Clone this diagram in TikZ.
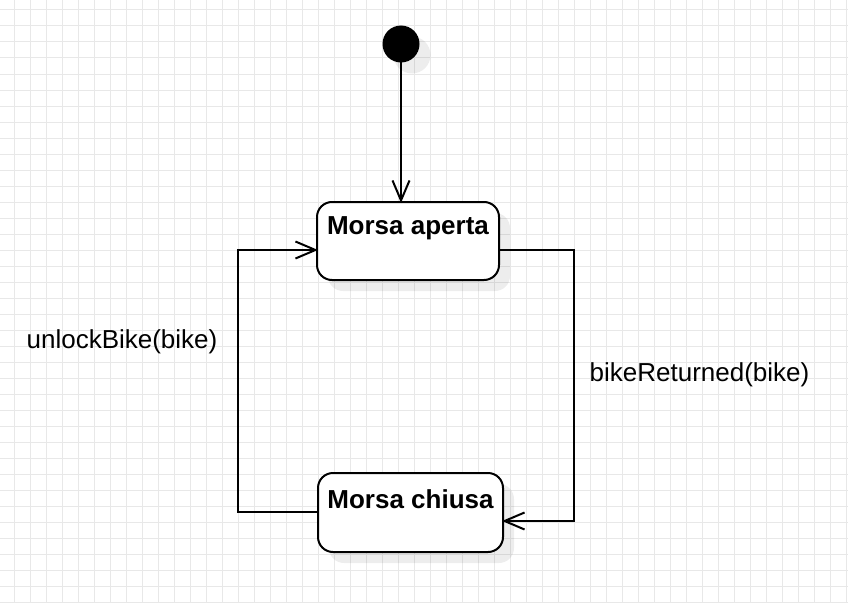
\documentclass[tikz,border=0pt]{standalone}
\usepackage{fontspec}
\setmainfont{Liberation Sans}
\usetikzlibrary{arrows.meta,positioning,shadows}

\tikzset{
  gridline/.style={draw=black!9, line width=1pt},
  softshadow/.style={drop shadow={shadow xshift=11pt, shadow yshift=-11pt, fill=black, opacity=0.07}},
  state/.style={draw, line width=2pt, rounded corners=15pt, fill=white, inner sep=0pt, outer sep=0pt, softshadow},
  initial/.style={circle, fill=black, minimum size=37pt, inner sep=0pt, outer sep=0pt, softshadow},
  statename/.style={font=\fontsize{26}{31}\selectfont\bfseries, inner sep=0pt},
  translabel/.style={font=\fontsize{26}{31}\selectfont, inner sep=0pt},
  trans/.style={line width=2pt, shorten >=-1pt, -{Straight Barb[length=20pt, width=17pt]}}
}

\begin{document}
\begin{tikzpicture}[x=1pt, y=-1pt]
                \useasboundingbox (0, 0) rectangle (848, 602);
                \fill [white] (0, 0) rectangle (848, 602);
                % grid
                \foreach \gx in {14, 30, ..., 846}
                    \draw [gridline] (\gx, 0) -- (\gx, 602);
                \foreach \gy in {10, 26, ..., 602}
                    \draw [gridline] (0, \gy) -- (848, \gy);

                \node [initial] (init) at (401, 44) {};
                \node [state, minimum width=182pt, minimum height=78pt] (aperta) at (408, 241) {};
                \node [state, minimum width=185pt, minimum height=79pt] (chiusa) at (410.5, 512.5) {};
                \node [statename, below=14.5pt of aperta.north] (apertaname) {Morsa aperta};
                \node [statename, below=16pt of chiusa.north] (chiusaname) {Morsa chiusa};

                \coordinate (rtop) at (574, 250);
                \coordinate (rbot) at (574, 521);
                \coordinate (lbot) at (238, 512);
                \coordinate (ltop) at (238, 250);

                \draw [trans] (init) -- (init |- aperta.north);
                \draw [trans] (aperta.east |- rtop) -- (rtop) -- (rbot) -- (chiusa.east |- rbot);
                \draw [trans] (chiusa.west |- lbot) -- (lbot) -- (ltop) -- (aperta.west |- ltop);

                \node [translabel] (unlock) at (122, 342) {unlockBike(bike)};
                \node [translabel] (returned) at (699.5, 375) {bikeReturned(bike)};
            \end{tikzpicture}
\end{document}
